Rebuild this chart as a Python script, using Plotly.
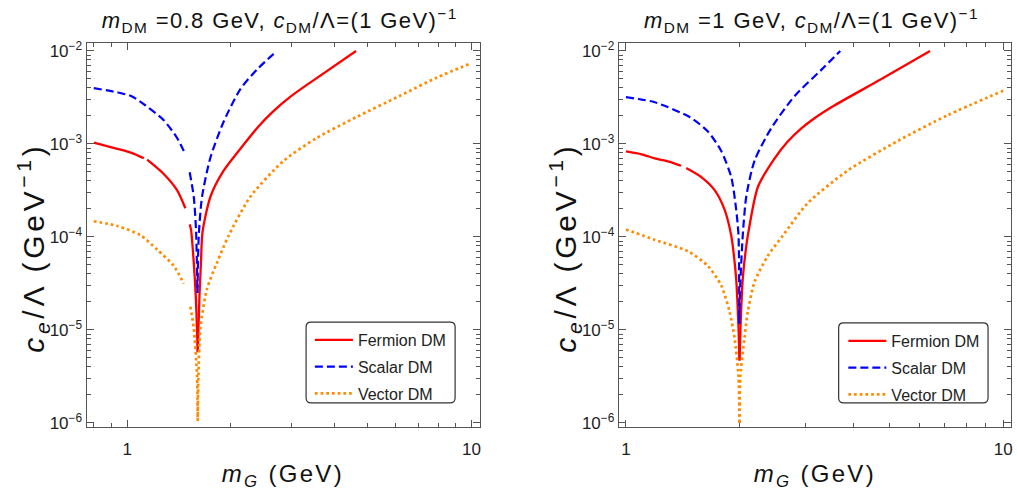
import plotly.graph_objects as go

# ---------------- data: m_DM = 0.8 GeV panel ----------------
mG_a_fermion = [0.80, 0.936, 1.03, 1.118, None, 1.143, 1.277, 1.396, 1.476, None, 1.519, 1.533, 1.561, 1.582, 1.603,
                None, 1.603, 1.622, 1.638, 1.655, 1.745, 1.906, 2.18, 2.41, 2.66, 3.00, 3.40, 4.62]
ce_a_fermion = [1.035e-3, 8.85e-4, 8.0e-4, 7.0e-4, None, 6.76e-4, 4.75e-4, 3.18e-4, 2.03e-4, None, 1.36e-4, 1.19e-4, 5.28e-5, 2.34e-5, 5.75e-6,
                None, 5.75e-6, 2.35e-5, 5.28e-5, 1.12e-4, 2.70e-4, 5.15e-4, 9.84e-4, 1.55e-3, 2.25e-3, 3.28e-3, 4.57e-3, 1.0e-2]

mG_a_scalar = [0.80, 0.936, 1.03, 1.131, 1.277, 1.396, 1.476, None, 1.519, 1.561, 1.585, 1.600,
               None, 1.600, 1.614, 1.65, 1.745, 1.906, 2.132, 2.382, 2.72]
ce_a_scalar = [3.98e-3, 3.59e-3, 3.26e-3, 2.59e-3, 1.80e-3, 1.16e-3, 7.73e-4, None, 4.95e-4, 2.70e-4, 1.17e-4, 2.5e-5,
               None, 2.5e-5, 1.02e-4, 2.70e-4, 7.13e-4, 1.73e-3, 3.89e-3, 6.31e-3, 1.0e-2]

mG_a_vector = [0.80, 0.936, 1.093, 1.222, 1.366, 1.46, None, 1.526, 1.561, 1.596, 1.603,
               None, 1.603, 1.61, 1.632, 1.706, 1.824, 1.971, 2.279, 2.846, 3.554, 4.64, 6.2, 7.92, 10.0]
ce_a_vector = [1.47e-4, 1.31e-4, 1.04e-4, 7.29e-5, 4.86e-5, 3.13e-5, None, 1.77e-5, 1.05e-5, 3.13e-6, 1.05e-6,
               None, 1.05e-6, 3.16e-6, 1.05e-5, 2.77e-5, 5.28e-5, 1.03e-4, 2.70e-4, 6.58e-4, 1.16e-3, 1.95e-3, 3.30e-3, 5.16e-3, 7.41e-3]

# ---------------- data: m_DM = 1 GeV panel ----------------
mG_b_fermion = [1.0, 1.10, 1.192, 1.30, 1.40, None, 1.445, 1.584, 1.718, 1.826, 1.902, 1.92, 1.96, 1.988, 2.0,
                None, 2.0, 2.012, 2.04, 2.084, 2.104, 2.237, 2.476, 2.685, 2.912, 3.16, 3.567, 4.743, 6.4]
ce_b_fermion = [8.30e-4, 7.73e-4, 7.0e-4, 6.46e-4, 5.82e-4, None, 5.5e-4, 4.39e-4, 3.18e-4, 1.96e-4, 1.03e-4, 7.91e-5, 3.52e-5, 1.05e-5, 4.68e-6,
                None, 4.68e-6, 1.05e-5, 3.52e-5, 7.91e-5, 1.03e-4, 3.44e-4, 6.95e-4, 1.06e-3, 1.46e-3, 1.89e-3, 2.59e-3, 4.95e-3, 1.0e-2]

mG_b_scalar = [1.0, 1.10, 1.192, 1.475, 1.649, 1.789, 1.902, 1.96, 1.988, 1.997,
               None, 1.997, 2.01, 2.04, 2.084, 2.192, 2.426, 2.797, 3.29, 3.70]
ce_b_scalar = [3.18e-3, 3.0e-3, 2.81e-3, 1.95e-3, 1.36e-3, 8.38e-4, 4.39e-4, 1.96e-4, 1.03e-4, 1.17e-5,
               None, 1.17e-5, 3.16e-5, 1.03e-4, 2.70e-4, 6.58e-4, 1.47e-3, 3.26e-3, 6.22e-3, 1.0e-2]

mG_b_vector = [1.0, 1.192, 1.46, 1.649, 1.789, 1.882, 1.94, 1.988, 2.0,
               None, 2.0, 2.01, 2.063, 2.104, 2.192, 2.376, 2.605, 3.032, 3.87, 5.245, 7.115, 10.0]
ce_b_vector = [1.20e-4, 9.29e-5, 7.0e-5, 4.86e-5, 3.0e-5, 1.57e-5, 8.24e-6, 3.13e-6, 1.0e-6,
               None, 1.0e-6, 3.16e-6, 8.24e-6, 1.57e-5, 3.26e-5, 6.21e-5, 1.03e-4, 2.30e-4, 5.16e-4, 1.07e-3, 2.03e-3, 3.73e-3]

# ---------------- labels / ticks ----------------
series_names = ["Fermion DM", "Scalar DM", "Vector DM"]
y_tickvals = [1e-6, 1e-5, 1e-4, 1e-3, 1e-2]
y_ticktext = ["10<sup>\u22126</sup>", "10<sup>\u22125</sup>", "10<sup>\u22124</sup>", "10<sup>\u22123</sup>", "10<sup>\u22122</sup>"]
x_tickvals = [1, 10]
x_ticktext = ["1", "10"]
title_a = "<i>m</i><sub>DM</sub> =0.8 GeV, <i>c</i><sub>DM</sub>/\u039b=(1 GeV)<sup>\u22121</sup>"
title_b = "<i>m</i><sub>DM</sub> =1 GeV, <i>c</i><sub>DM</sub>/\u039b=(1 GeV)<sup>\u22121</sup>"
xlabel = "<i>m<sub>G</sub></i> (GeV)"
ylabel = "<i>c<sub>e</sub></i>/\u039b (GeV<sup>\u22121</sup>)"

W, H = 1017, 504
FONT = "Liberation Sans, Arial, sans-serif"
FRAME = "#555555"

styles = [dict(color="#FF0000", width=2.3, dash="solid"),
          dict(color="#0000FF", width=2.2, dash="8px,4px"),
          dict(color="#FF8C00", width=2.7, dash="2.7px,3px")]

fig = go.Figure()
panels = [
    ("x", "y", "legend", [(mG_a_fermion, ce_a_fermion), (mG_a_scalar, ce_a_scalar), (mG_a_vector, ce_a_vector)]),
    ("x2", "y2", "legend2", [(mG_b_fermion, ce_b_fermion), (mG_b_scalar, ce_b_scalar), (mG_b_vector, ce_b_vector)]),
]
for xa, ya, lg, data in panels:
    for i, (xs, ys) in enumerate(data):
        fig.add_trace(go.Scatter(
            x=xs, y=ys, mode="lines", name=series_names[i],
            line=dict(color=styles[i]["color"], width=styles[i]["width"], dash=styles[i]["dash"],
                      shape="spline", smoothing=0.7),
            xaxis=xa, yaxis=ya, legend=lg, legendgroup=lg + str(i), connectgaps=False))

def px_x(p):
    return p / W

def px_y(p):
    return 1 - p / H

y_minor = [m * 10 ** e for e in range(-7, -1) for m in range(2, 10)]
x_minor = [0.7, 0.8, 0.9] + list(range(2, 10))

common_axis = dict(type="log", showline=True, linecolor=FRAME, linewidth=1, mirror="allticks",
                   ticks="inside", ticklen=7, tickwidth=1, tickcolor=FRAME, showgrid=False, zeroline=False,
                   tickfont=dict(family=FONT, size=17, color="#222222"))

def xaxis_cfg(dom, rng, anchor):
    d = dict(common_axis)
    d.update(domain=dom, range=rng, anchor=anchor, tickmode="array", tickvals=x_tickvals, ticktext=x_ticktext,
             ticklabelstandoff=7,
             minor=dict(ticks="inside", ticklen=4, tickcolor=FRAME, tickmode="array", tickvals=x_minor, showgrid=False))
    return d

def yaxis_cfg(dom, rng, anchor):
    d = dict(common_axis)
    d.update(domain=dom, range=rng, anchor=anchor, tickmode="array", tickvals=y_tickvals, ticktext=y_ticktext,
             minor=dict(ticks="inside", ticklen=4, tickcolor=FRAME, tickmode="array", tickvals=y_minor, showgrid=False))
    return d

ydom = [px_y(431.5), px_y(39.3)]
yr = [-6.047, -1.919]
leg_font = dict(family=FONT, size=16, color="#222222")
fig.update_layout(
    width=W, height=H, margin=dict(l=0, r=0, t=0, b=0),
    paper_bgcolor="white", plot_bgcolor="white",
    font=dict(family=FONT, size=16, color="#222222"),
    xaxis=xaxis_cfg([px_x(86.7), px_x(480.7)], [-0.118, 1.024], "y"),
    yaxis=yaxis_cfg(ydom, yr, "x"),
    xaxis2=xaxis_cfg([px_x(620), px_x(1012.7)], [-0.019, 1.02], "y2"),
    yaxis2=yaxis_cfg(ydom, yr, "x2"),
    legend=dict(x=px_x(310.5), y=px_y(325), xanchor="left", yanchor="top", bgcolor="rgba(0,0,0,0)",
                borderwidth=0, font=leg_font, tracegroupgap=3, itemwidth=38),
    legend2=dict(x=px_x(845), y=px_y(326), xanchor="left", yanchor="top", bgcolor="rgba(0,0,0,0)",
                 borderwidth=0, font=leg_font, tracegroupgap=3, itemwidth=38),
)

# rounded legend frames
def rounded_rect(x0, y0, x1, y1, r=5):
    rx, ry = r / W, r / H
    X0, X1 = px_x(x0), px_x(x1)
    Y0, Y1 = px_y(y1), px_y(y0)  # bottom, top in paper
    return (f"M {X0+rx},{Y1} L {X1-rx},{Y1} Q {X1},{Y1} {X1},{Y1-ry} "
            f"L {X1},{Y0+ry} Q {X1},{Y0} {X1-rx},{Y0} L {X0+rx},{Y0} Q {X0},{Y0} {X0},{Y0+ry} "
            f"L {X0},{Y1-ry} Q {X0},{Y1} {X0+rx},{Y1} Z")

for box in [(306.7, 324.3, 456, 406.7), (840.3, 325, 990, 406.7)]:
    fig.add_shape(type="path", path=rounded_rect(*box), xref="paper", yref="paper",
                  line=dict(color="#333333", width=1.2), fillcolor="white", layer="below")

# titles and axis labels
ann = []
for cx, t in [(280, title_a), (813, title_b)]:
    ann.append(dict(text=t, x=px_x(cx), y=px_y(15.5), xref="paper", yref="paper", showarrow=False,
                    xanchor="center", yanchor="middle", font=dict(family=FONT, size=22, color="#111111")))
for cx in [283.7, 816.3]:
    ann.append(dict(text=xlabel, x=px_x(cx), y=px_y(481), xref="paper", yref="paper", showarrow=False,
                    xanchor="center", yanchor="middle", font=dict(family=FONT, size=24, color="#111111")))
for cx in [33, 566]:
    ann.append(dict(text=ylabel, x=px_x(cx), y=px_y(248), xref="paper", yref="paper", showarrow=False,
                    xanchor="center", yanchor="middle", textangle=-90,
                    font=dict(family=FONT, size=30, color="#111111")))
fig.update_layout(annotations=ann)

post = """
document.body.style.margin='0px';document.body.style.overflow='hidden';
(function(){
  var gd=document.getElementById('{plot_id}');
  var sp=[1.4,1.4,2.3,2.3,3.7,3.7];
  function f(){
    var gs=gd.querySelectorAll('g.annotation');
    gs.forEach(function(g,i){var t=g.querySelector('text.annotation-text'); if(t){t.style.letterSpacing=sp[i]+'px';}});
  }
  f(); setTimeout(f,0); setTimeout(f,100);
  if(gd.on){gd.on('plotly_afterplot',f);}
})();
"""
fig.write_html("out.html", post_script=post, config={"displayModeBar": False})
